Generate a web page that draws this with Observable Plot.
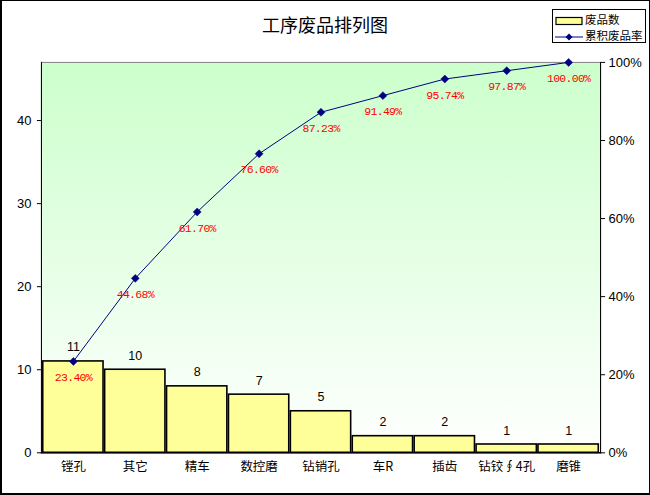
<!DOCTYPE html>
<html><head><meta charset="utf-8">
<script src="https://cdn.jsdelivr.net/npm/d3@7"></script>
<script src="https://cdn.jsdelivr.net/npm/@observablehq/plot@0.6"></script>
<style>
body{margin:0;background:#fff;}
#wrap{position:relative;width:650px;height:495px;box-sizing:border-box;border:1px solid #000;border-left-width:2px;border-bottom-width:2px;overflow:hidden;background:#fff;}
#title{position:absolute;left:-2px;width:650px;top:11px;text-align:center;font:18px "Noto Sans CJK SC";line-height:24px;color:#000;}
#legend{position:absolute;left:550px;top:8px;width:92px;height:32px;border:1px solid #000;background:#fff;font:11.5px "Noto Sans CJK SC";color:#000;}
#legend .row{position:absolute;left:2px;height:16px;line-height:16px;white-space:nowrap;}
#legend svg{vertical-align:middle;margin-right:2px;}
#chart{position:absolute;left:-2px;top:-1px;}
.pct text{letter-spacing:-0.7px;}
</style>
</head><body>
<div id="wrap">
  <div id="chart"></div>
  <div id="title">工序废品排列图</div>
  <div id="legend">
    <div class="row" style="top:1px"><svg width="28" height="10"><rect x="1" y="1.5" width="26" height="7" fill="#FFFF99" stroke="#000" stroke-width="1.2"/></svg>废品数</div>
    <div class="row" style="top:17px"><svg width="28" height="10"><line x1="0" y1="5" x2="28" y2="5" stroke="#000080" stroke-width="1"/><path d="M14,1.5L17.5,5L14,8.5L10.5,5Z" fill="#000080"/></svg>累积废品率</div>
  </div>
</div>
<script>
const categories = ["镗孔","其它","精车","数控磨","钻销孔","车R","插齿","钻铰∮4孔","磨锥"];
const counts = [11,10,8,7,5,2,2,1,1];
const cumPct = [23.40,44.68,61.70,76.60,87.23,91.49,95.74,97.87,100.00];
const leftTicks = [0,10,20,30,40];
const rightTicks = [0,20,40,60,80,100];

const total = d3.sum(counts);
const data = categories.map((c,i)=>({cat:c,count:counts[i],pct:cumPct[i],cum:cumPct[i]/100*total}));

const chart = Plot.plot({
  width:650, height:495,
  marginTop:62, marginLeft:41, marginRight:49, marginBottom:42,
  x:{domain:categories, padding:0, label:null},
  y:{domain:[0,total], label:null},
  style:{fontFamily:"'Liberation Sans', Arial, sans-serif", fontSize:"13px", background:"transparent", color:"#000"},
  marks:[
    Plot.frame({fill:"url(#bgGrad)", stroke:"#808080"}),
    Plot.barY(data,{x:"cat", y:"count", fill:"#FFFF99", stroke:"#000", strokeWidth:1.6, insetLeft:0.8, insetRight:0.8}),
    Plot.frame({anchor:"left", stroke:"#000"}),
    Plot.frame({anchor:"right", stroke:"#000"}),
    Plot.frame({anchor:"bottom", stroke:"#000", strokeWidth:1.5}),
    Plot.axisY({anchor:"left", ticks:leftTicks, tickSize:4, tickPadding:6, label:null, fontSize:13}),
    Plot.axisY({anchor:"right", ticks:rightTicks.map(p=>p/100*total), tickFormat:d=>Math.round(d/total*100)+"%", tickSize:4, tickPadding:4, label:null, fontSize:13}),
    Plot.axisX({tickSize:0, tickPadding:9, label:null, fontSize:12.5, fontFamily:"'Noto Sans CJK SC'"}),
    Plot.text(data,{x:"cat", y:"count", text:d=>String(d.count), dy:-14, fontSize:12.5, fill:"#000"}),
    Plot.line(data,{x:"cat", y:"cum", stroke:"#000080", strokeWidth:1}),
    Plot.dot(data,{x:"cat", y:"cum", symbol:"diamond2", r:3.6, fill:"#000080", stroke:"#000080", strokeWidth:0.5}),
    Plot.text(data,{x:"cat", y:"cum", text:d=>d.pct.toFixed(2)+"%", dy:16, fontSize:11.5, fill:"#FF0000", fontFamily:"'Liberation Mono', 'DejaVu Sans Mono', monospace", className:"pct"})
  ]
});

const defs = document.createElementNS("http://www.w3.org/2000/svg","defs");
defs.innerHTML = '<linearGradient id="bgGrad" x1="0" y1="0" x2="0" y2="1"><stop offset="0" stop-color="#CCFFCC"/><stop offset="1" stop-color="#FFFFFF"/></linearGradient>';
chart.insertBefore(defs, chart.firstChild);
document.getElementById("chart").appendChild(chart);
</script>
</body></html>
